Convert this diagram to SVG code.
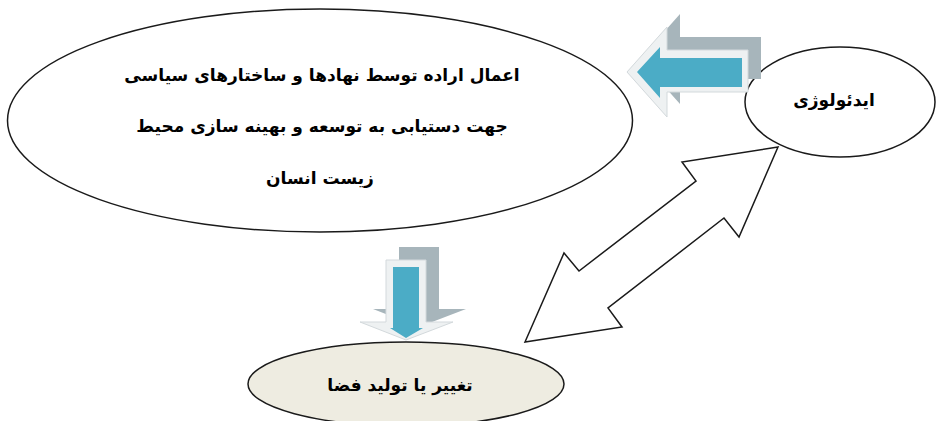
<svg xmlns="http://www.w3.org/2000/svg" width="936" height="421" viewBox="0 0 936 421">
<style>
.node{fill:#ffffff;stroke:#1a1a1a;stroke-width:1.5}
.beige{fill:#eeece1;stroke:#1a1a1a;stroke-width:1.5}
.txt{font-family:"DejaVu Sans",sans-serif;font-weight:bold;fill:#000;text-anchor:middle;direction:rtl}
.shadow{fill:#a7b5bb}
.glow{fill:#eef1f2;stroke:#d3d9dc;stroke-width:1}
.blue{fill:#4bacc6}
.conn{fill:#ffffff;stroke:#1a1a1a;stroke-width:1.5;stroke-linejoin:miter}
</style>
<rect width="936" height="421" fill="#ffffff"/>
<g id="node-main">
<ellipse class="node" cx="320" cy="120.5" rx="312.5" ry="111.5"/>
<text class="txt" x="322" y="81" font-size="17">اعمال اراده توسط نهادها و ساختارهای سیاسی</text>
<text class="txt" x="322" y="132" font-size="17">جهت دستیابی به توسعه و بهینه سازی محیط</text>
<text class="txt" x="320" y="184" font-size="17">زیست انسان</text>
</g>
<g id="node-ideology">
<ellipse class="node" cx="840" cy="102" rx="95" ry="55"/>
<text class="txt" x="834" y="106" font-size="17">ایدئولوژی</text>
</g>
<g id="node-space">
<ellipse class="beige" cx="406" cy="384" rx="158" ry="42"/>
<text class="txt" x="400" y="391" font-size="17">تغییر یا تولید فضا</text>
</g>
<g id="connectors">
<g id="arrow-left">
<polygon class="shadow" points="640,59 680,14 680,37 761,37 761,79 680,79 680,104"/>
<polygon class="glow" points="627,72 667,27 667,50 748,50 748,92 667,92 667,117"/>
<polygon class="blue" points="637,72 660,47 660,58 742,58 742,87 660,87 660,98"/>
</g>
<g id="arrow-down">
<polygon class="shadow" points="399,247 439,247 439,309 466,309 419,327 373,309 399,309"/>
<polygon class="glow" points="386,260 426,260 426,322 453,322 406,340 360,322 386,322"/>
<polygon class="blue" points="393,267 419,267 419,328 423,328 406,338 390,328 393,328"/>
</g>
<polygon class="conn" points="778,147 682,162 696,181 579,271 564,253 525,342 622,327 608,308 724,218 739,237"/>
</g>
</svg>
